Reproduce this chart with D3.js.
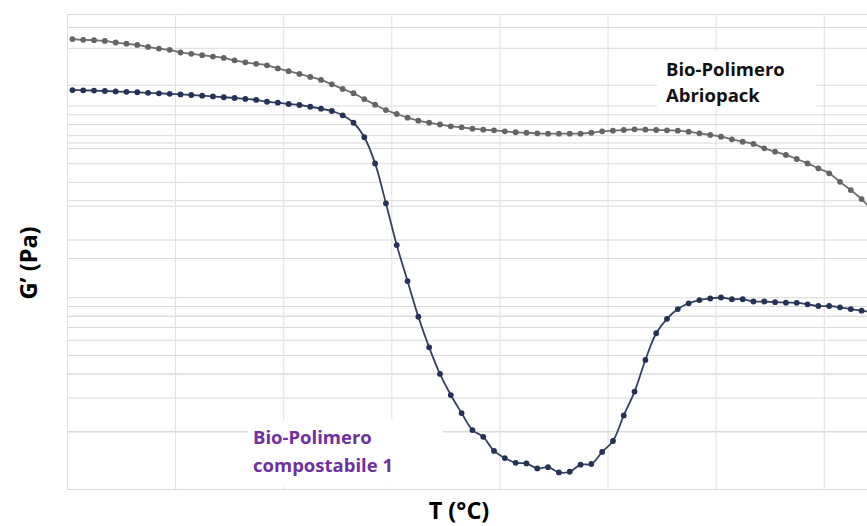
<!DOCTYPE html>
<html>
<head>
<meta charset="utf-8">
<script src="https://cdn.jsdelivr.net/npm/d3@7"></script>
<style>
  body { margin: 0; background: #ffffff; }
  #grafico { width: 867px; height: 526px; }
</style>
</head>
<body>
<div id="grafico"></div>
<script>
//----------------------------------------------------------------
// dati (G' in Pa, T in °C)
var temperature = [20.5, 21.5, 22.5, 23.5, 24.5, 25.5, 26.5, 27.5, 28.5, 29.5,
  30.5, 31.5, 32.5, 33.5, 34.5, 35.5, 36.5, 37.5, 38.5, 39.5,
  40.5, 41.5, 42.5, 43.5, 44.5, 45.5, 46.5, 47.5, 48.5, 49.5,
  50.5, 51.5, 52.5, 53.5, 54.5, 55.5, 56.5, 57.5, 58.5, 59.5,
  60.5, 61.5, 62.5, 63.5, 64.5, 65.5, 66.5, 67.5, 68.5, 69.5,
  70.5, 71.5, 72.5, 73.5, 74.5, 75.5, 76.5, 77.5, 78.5, 79.5,
  80.5, 81.5, 82.5, 83.5, 84.5, 85.5, 86.5, 87.5, 88.5, 89.5,
  90.5, 91.5, 92.5, 93.5, 94.5];

var gCompostabile = [1.204e8, 1.200e8, 1.196e8, 1.190e8, 1.184e8, 1.179e8, 1.172e8, 1.164e8, 1.157e8, 1.151e8,
  1.142e8, 1.134e8, 1.125e8, 1.115e8, 1.104e8, 1.094e8, 1.082e8, 1.069e8, 1.046e8, 1.034e8,
  1.018e8, 1.006e8, 9.85e7, 9.62e7, 9.36e7, 8.89e7, 8.13e7, 6.83e7, 4.99e7, 3.09e7,
  1.87e7, 1.215e7, 7.92e6, 5.48e6, 3.98e6, 3.09e6, 2.49e6, 2.03e6, 1.87e6, 1.58e6,
  1.45e6, 1.37e6, 1.36e6, 1.28e6, 1.30e6, 1.22e6, 1.23e6, 1.34e6, 1.35e6, 1.56e6,
  1.78e6, 2.42e6, 3.22e6, 4.71e6, 6.49e6, 7.72e6, 8.68e6, 9.30e6, 9.67e6, 9.85e6,
  9.97e6, 9.77e6, 9.77e6, 9.50e6, 9.50e6, 9.42e6, 9.37e6, 9.35e6, 9.19e6, 9.00e6,
  9.00e6, 8.86e6, 8.68e6, 8.51e6, 8.35e6];

var gAbriopack = [2.22e8, 2.20e8, 2.19e8, 2.17e8, 2.13e8, 2.10e8, 2.07e8, 2.02e8, 1.98e8, 1.95e8,
  1.89e8, 1.86e8, 1.83e8, 1.80e8, 1.77e8, 1.72e8, 1.68e8, 1.65e8, 1.62e8, 1.56e8,
  1.51e8, 1.46e8, 1.41e8, 1.36e8, 1.29e8, 1.22e8, 1.16e8, 1.08e8, 1.01e8, 9.47e7,
  9.03e7, 8.64e7, 8.33e7, 8.13e7, 7.96e7, 7.79e7, 7.69e7, 7.57e7, 7.48e7, 7.42e7,
  7.33e7, 7.25e7, 7.21e7, 7.16e7, 7.13e7, 7.13e7, 7.13e7, 7.13e7, 7.21e7, 7.33e7,
  7.39e7, 7.45e7, 7.51e7, 7.48e7, 7.45e7, 7.42e7, 7.39e7, 7.30e7, 7.16e7, 7.02e7,
  6.88e7, 6.66e7, 6.47e7, 6.30e7, 5.98e7, 5.74e7, 5.52e7, 5.26e7, 4.99e7, 4.70e7,
  4.43e7, 4.00e7, 3.62e7, 3.25e7, 2.82e7];

var tickT = [20, 30, 40, 50, 60, 70, 80, 90];
var etichette = ["Bio-Polimero", "Abriopack"];
var etichetteComp = ["Bio-Polimero", "compostabile 1"];

//----------------------------------------------------------------
// crée la svg
var largeur = 867, hauteur = 526;
var svg = d3.select("#grafico")
  .append("svg")
  .attr("width", largeur)
  .attr("height", hauteur)
  .style("font-family", "'Open Sans', sans-serif");

var x = d3.scaleLinear().domain([20, 94]).range([67, 867]);
var y = d3.scaleLog().domain([1e6, 3e8]).range([489, 14]);
// seconda griglia (maggiori) sovrapposta
var y2 = d3.scaleLinear().domain([0, 8]).range([489, 27]);

//----------------------------------------------------------------
// griglia
var griglia = svg.append("g").attr("class", "griglia");

griglia.append("g")
  .attr("transform", "translate(67,0)")
  .call(d3.axisLeft(y).tickSize(-(largeur - 67)).tickFormat(""))
  .call(g => g.select(".domain").remove())
  .selectAll("line").attr("stroke", "#dadada");

griglia.append("g")
  .attr("transform", "translate(67,0)")
  .call(d3.axisLeft(y2).ticks(8).tickSize(-(largeur - 67)).tickFormat(""))
  .call(g => g.select(".domain").remove())
  .selectAll("line").attr("stroke", "#dadada");

griglia.append("g")
  .attr("transform", "translate(0,489)")
  .call(d3.axisBottom(x).tickValues(tickT).tickSize(-475).tickFormat(""))
  .call(g => g.select(".domain").remove())
  .selectAll("line").attr("stroke", "#e0e0e0");

//----------------------------------------------------------------
// riquadri bianchi delle etichette
svg.append("rect").attr("x", 657).attr("y", 51).attr("width", 159).attr("height", 57).attr("fill", "#ffffff");
svg.append("rect").attr("x", 248).attr("y", 420).attr("width", 195).attr("height", 67).attr("fill", "#ffffff");

//----------------------------------------------------------------
// curve
function disegnaSerie(valori, colLinea, colPunto) {
  var dati = temperature.map(function(t, i) { return [t, valori[i]]; });
  var linea = d3.line()
    .x(function(d) { return x(d[0]); })
    .y(function(d) { return y(d[1]); })
    .curve(d3.curveCatmullRom);
  svg.append("path")
    .datum(dati)
    .attr("fill", "none")
    .attr("stroke", colLinea)
    .attr("stroke-width", 1.8)
    .attr("d", linea);
  svg.append("g").selectAll("circle")
    .data(dati)
    .enter()
    .append("circle")
    .attr("cx", function(d) { return x(d[0]); })
    .attr("cy", function(d) { return y(d[1]); })
    .attr("r", 2.9)
    .attr("fill", colPunto);
}
disegnaSerie(gAbriopack, "#6f6f6f", "#646464");
disegnaSerie(gCompostabile, "#34405e", "#243256");

//----------------------------------------------------------------
// testi
svg.append("text")
  .attr("x", 666).attr("y", 76)
  .style("font-size", "18.5px").style("font-weight", "bold").attr("fill", "#111111")
  .selectAll("tspan").data(etichette).enter().append("tspan")
  .attr("x", 666).attr("dy", function(d, i) { return i ? 25.7 : 0; })
  .text(function(d) { return d; });

svg.append("text")
  .attr("x", 253).attr("y", 444)
  .style("font-size", "18.5px").style("font-weight", "bold").attr("fill", "#7030a0")
  .selectAll("tspan").data(etichetteComp).enter().append("tspan")
  .attr("x", 253).attr("dy", function(d, i) { return i ? 27.5 : 0; })
  .text(function(d) { return d; });

svg.append("text")
  .attr("x", 459).attr("y", 519)
  .attr("text-anchor", "middle")
  .style("font-size", "23.5px").style("font-weight", "bold").attr("fill", "#000000")
  .text("T (°C)");

svg.append("text")
  .attr("transform", "translate(37,263) rotate(-90)")
  .attr("text-anchor", "middle")
  .style("font-size", "23.5px").style("font-weight", "bold").attr("fill", "#000000")
  .text("G’ (Pa)");
</script>
</body>
</html>
